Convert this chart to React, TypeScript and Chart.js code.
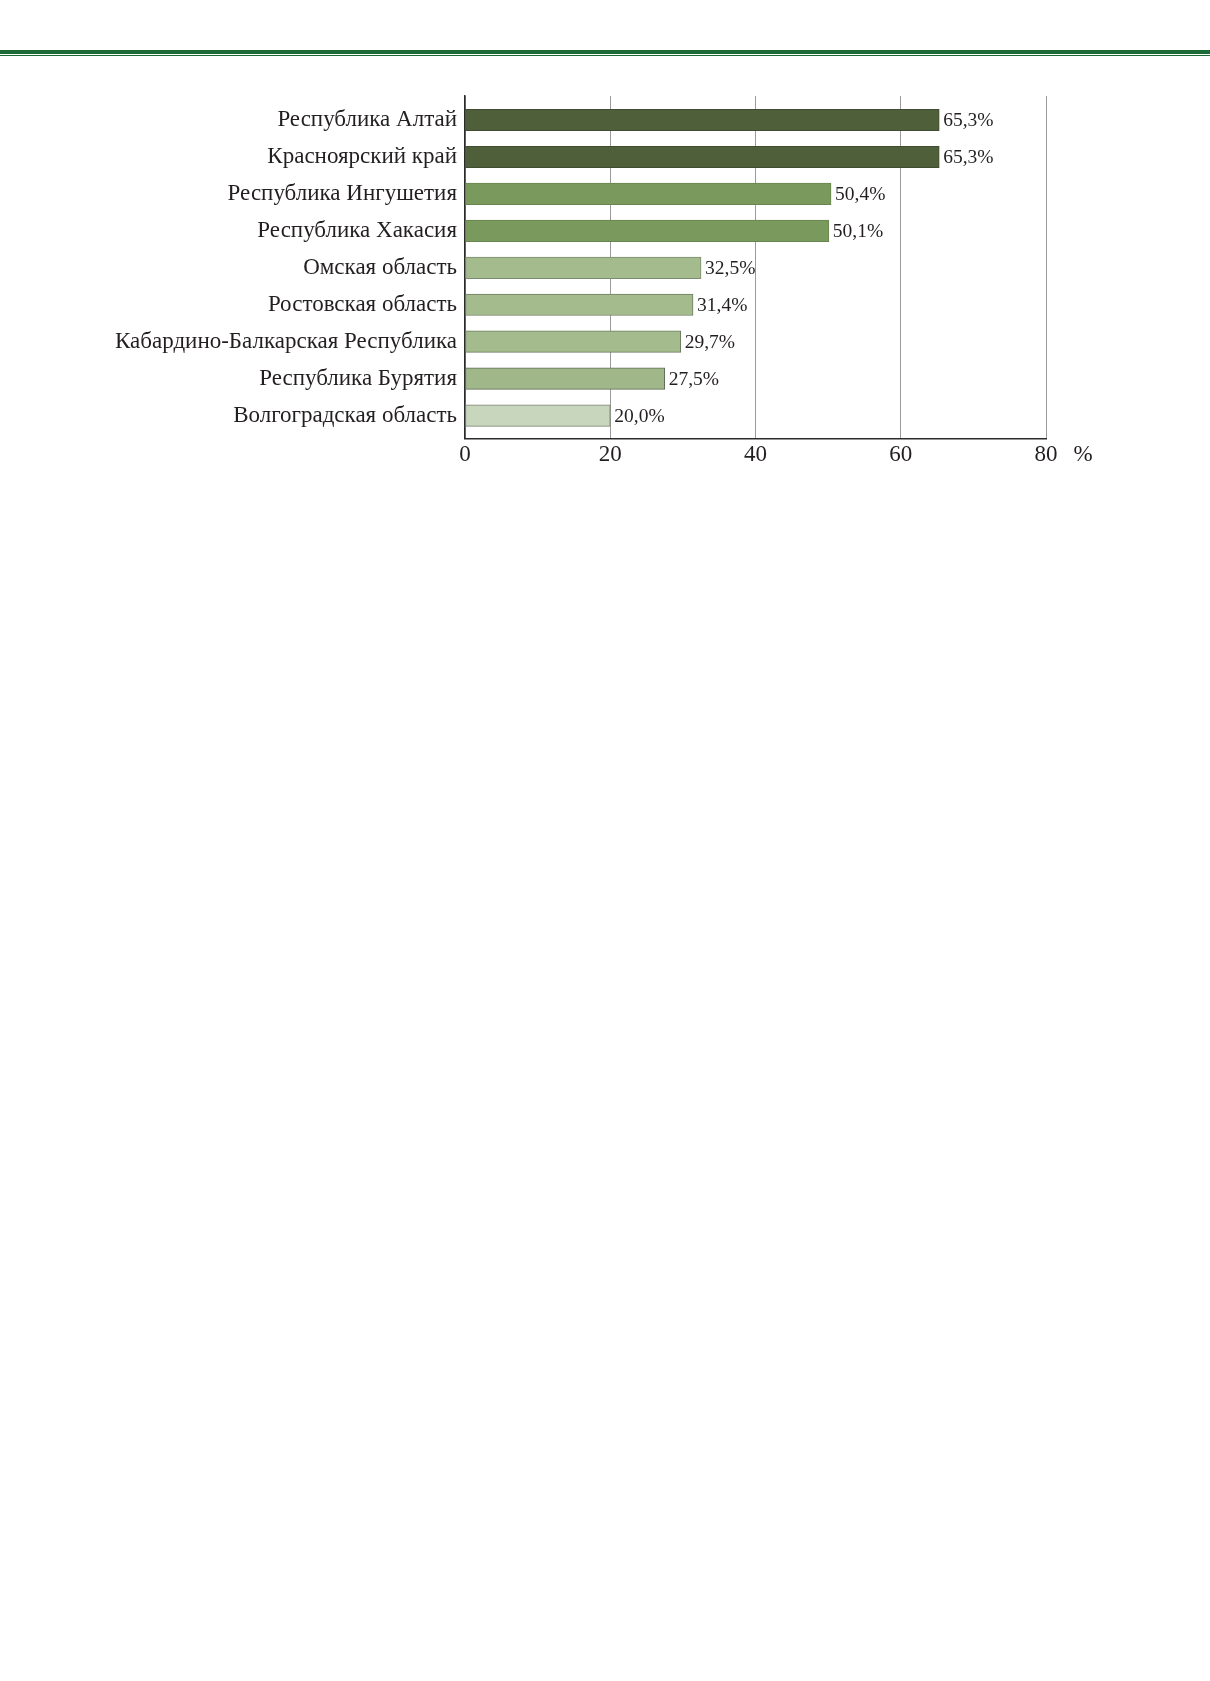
import React, { useEffect, useRef } from "react";
import { Chart, registerables } from "chart.js";

Chart.register(...registerables);

const categories = [
  "Республика Алтай",
  "Красноярский край",
  "Республика Ингушетия",
  "Республика Хакасия",
  "Омская область",
  "Ростовская область",
  "Кабардино-Балкарская Республика",
  "Республика Бурятия",
  "Волгоградская область",
];

const values = [65.3, 65.3, 50.4, 50.1, 32.5, 31.4, 29.7, 27.5, 20.0];

const barColors = [
  "#4f5f3a",
  "#4f5f3a",
  "#7a995d",
  "#7a995d",
  "#a3bb8d",
  "#a3bb8d",
  "#a3bb8d",
  "#a0b889",
  "#c8d6bd",
];

const borderColors = [
  "#404d30",
  "#404d30",
  "#6a864f",
  "#6a864f",
  "#7d8c6e",
  "#6f7c62",
  "#6f7c62",
  "#5f6a55",
  "#7a8272",
];

const xTickValues = [0, 20, 40, 60, 80];
const unitLabel = "%";

const FONT = '"Liberation Serif", "Times New Roman", serif';
const TEXT = "#231f20";

const fmt = (v: number) => v.toFixed(1).replace(".", ",") + "%";

const valueLabelPlugin = {
  id: "valueLabels",
  afterDatasetsDraw(chart: any) {
    const ctx = chart.ctx;
    const meta = chart.getDatasetMeta(0);
    ctx.save();
    ctx.font = `19.5px ${FONT}`;
    ctx.fillStyle = TEXT;
    ctx.textAlign = "left";
    ctx.textBaseline = "middle";
    meta.data.forEach((bar: any, i: number) => {
      ctx.fillText(fmt(values[i]), bar.x + 4, bar.y + 1);
    });
    const xs = chart.scales.x;
    const lastX = xs.getPixelForValue(xTickValues[xTickValues.length - 1]);
    ctx.font = `23px ${FONT}`;
    ctx.textAlign = "center";
    ctx.fillText(unitLabel, lastX + 37, chart.chartArea.bottom + 16);
    ctx.restore();
  },
};

export default function App() {
  const ref = useRef<HTMLCanvasElement | null>(null);

  useEffect(() => {
    if (!ref.current) return;
    const chart = new Chart(ref.current, {
      type: "bar",
      data: {
        datasets: [
          {
            data: values.map((v, i) => ({ x: v, y: i })),
            backgroundColor: barColors,
            borderColor: borderColors,
            borderWidth: 1,
            borderSkipped: false,
            barThickness: 21.5,
          } as any,
        ],
      },
      options: {
        indexAxis: "y",
        animation: false,
        responsive: false,
        devicePixelRatio: 1,
        layout: { padding: { left: 0, right: 164, top: 96, bottom: 0 } },
        plugins: {
          legend: { display: false },
          tooltip: { enabled: false },
        },
        scales: {
          x: {
            type: "linear",
            min: 0,
            max: 80,
            afterBuildTicks: (scale: any) => {
              scale.ticks = xTickValues.map((v) => ({ value: v }));
            },
            afterFit: (scale: any) => {
              scale.height = 41.5;
            },
            ticks: {
              font: { family: FONT, size: 23 },
              color: TEXT,
              padding: 3,
            },
            grid: {
              color: "#9a9a9a",
              lineWidth: 1,
              drawTicks: false,
            },
            border: { display: true, color: "#2b2b2b", width: 1.5 },
          },
          y: {
            type: "linear",
            reverse: true,
            offset: false,
            min: -0.65,
            max: 8.62,
            afterBuildTicks: (scale: any) => {
              scale.ticks = categories.map((_, i) => ({ value: i }));
            },
            afterFit: (scale: any) => {
              scale.width = 465;
            },
            ticks: {
              font: { family: FONT, size: 23 },
              color: TEXT,
              padding: 8,
              callback: (v: any) => categories[Number(v)] ?? "",
            },
            grid: { display: false, drawTicks: false },
            border: { display: true, color: "#2b2b2b", width: 1.5 },
          },
        },
      },
      plugins: [valueLabelPlugin],
    } as any);
    return () => chart.destroy();
  }, []);

  return (
    <div
      style={{
        position: "absolute",
        left: 0,
        top: 0,
        width: 1210,
        height: 1681,
        background: "#ffffff",
        overflow: "hidden",
      }}
    >
      <div
        style={{
          position: "absolute",
          left: 0,
          top: 50,
          width: 1210,
          height: 3.5,
          background: "#1c6a36",
        }}
      />
      <div
        style={{
          position: "absolute",
          left: 0,
          top: 55.3,
          width: 1210,
          height: 1.2,
          background: "#1c6a36",
        }}
      />
      <canvas
        ref={ref}
        width={1210}
        height={480}
        style={{ position: "absolute", left: 0, top: 0, width: 1210, height: 480 }}
      />
    </div>
  );
}
